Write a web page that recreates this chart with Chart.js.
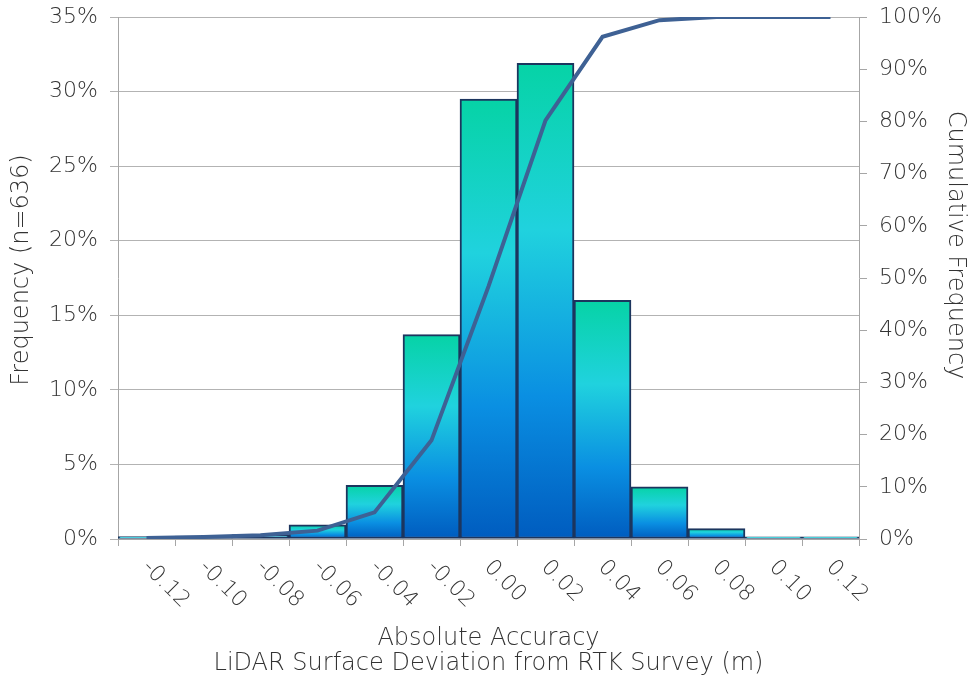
<!DOCTYPE html>
<html>
<head>
<meta charset="utf-8">
<script src="https://cdn.jsdelivr.net/npm/chart.js@4.4.1/dist/chart.umd.min.js"></script>
<style>
  body { margin: 0; background: #fff; }
  #wrap { width: 969px; height: 676px; }
</style>
</head>
<body>
<div id="wrap"><canvas id="histChart" width="969" height="676"></canvas></div>
<script>
// bin labels (m)
const binLabels = ['-0.12', '-0.10', '-0.08', '-0.06', '-0.04', '-0.02', '0.00', '0.02', '0.04', '0.06', '0.08', '0.10', '0.12'];
// frequency per bin, % of n=636
const frequency = [0.16, 0.2, 0.3, 0.95, 3.6, 13.7, 29.5, 31.9, 16.0, 3.5, 0.7, 0.15, 0.15];
// cumulative frequency, %
const cumulative = [0.2, 0.4, 0.7, 1.6, 5.1, 18.9, 48.4, 80.2, 96.2, 99.4, 100, 100, 100];

const leftTitle = 'Frequency (n=636)';
const rightTitle = 'Cumulative Frequency';

const textColor = '#333333';
const fontFamily = '"DejaVu Sans", sans-serif';
const fontWeight = 300;

function barGradient(context) {
    const chart = context.chart;
    const y = chart.scales.y;
    if (!y || context.dataIndex === undefined) return '#1aa0e0';
    const top = y.getPixelForValue(frequency[context.dataIndex]);
    const bottom = y.getPixelForValue(0);
    if (!isFinite(top) || bottom - top < 1) return '#0a6cc8';
    const g = chart.ctx.createLinearGradient(0, top, 0, bottom);
    g.addColorStop(0, '#06d3a6');
    g.addColorStop(0.35, '#20d2de');
    g.addColorStop(0.7, '#0a8fe2');
    g.addColorStop(1, '#005cbf');
    return g;
}

// rotated x labels (running down-right) and the two side titles
const labelPlugin = {
    id: 'customLabels',
    afterDraw(chart) {
        const x = chart.scales.x;
        const ctx = chart.ctx;
        ctx.save();
        ctx.font = fontWeight + ' 22px ' + fontFamily;
        ctx.fillStyle = textColor;
        ctx.textAlign = 'left';
        ctx.textBaseline = 'middle';
        binLabels.forEach((lab, i) => {
            ctx.save();
            ctx.translate(x.getPixelForValue(i) - 1, x.top + 25);
            ctx.rotate(Math.PI / 4);
            ctx.fillText(lab, 0, 0);
            ctx.restore();
        });

        ctx.font = fontWeight + ' 24px ' + fontFamily;
        ctx.textAlign = 'center';
        ctx.save();
        ctx.translate(22, 270);
        ctx.rotate(-Math.PI / 2);
        ctx.fillText(leftTitle, 0, 0);
        ctx.restore();

        ctx.save();
        ctx.translate(955, 245);
        ctx.rotate(Math.PI / 2);
        ctx.fillText(rightTitle, 0, 0);
        ctx.restore();
        ctx.restore();
    }
};

function noLabelPad(scale) {
    scale.paddingTop = 0;
    scale.paddingBottom = 0;
}

new Chart(document.getElementById('histChart'), {
    data: {
        labels: binLabels,
        datasets: [{
            type: 'line',
            label: 'Cumulative Frequency',
            data: cumulative,
            yAxisID: 'y2',
            borderColor: '#3e6194',
            borderWidth: 4,
            pointRadius: 0,
            tension: 0,
            order: 0
        }, {
            type: 'bar',
            label: 'Frequency',
            data: frequency,
            yAxisID: 'y',
            backgroundColor: barGradient,
            borderColor: '#1c355e',
            borderWidth: 2,
            borderSkipped: false,
            barPercentage: 1,
            categoryPercentage: 1,
            order: 1
        }]
    },
    options: {
        responsive: false,
        animation: false,
        layout: { padding: { top: 17, left: 0, right: 0, bottom: 0 } },
        plugins: {
            legend: { display: false },
            tooltip: { enabled: false }
        },
        scales: {
            x: {
                offset: true,
                grid: { offset: true, drawOnChartArea: false, drawTicks: true, tickLength: 7, color: '#a6a6a6' },
                border: { color: '#a6a6a6' },
                ticks: { display: false },
                title: {
                    display: true,
                    text: ['Absolute Accuracy', 'LiDAR Surface Deviation from RTK Survey (m)'],
                    color: textColor,
                    font: { family: fontFamily, size: 24, weight: fontWeight, lineHeight: 1.04 },
                    padding: { top: 0, bottom: 0 }
                },
                afterFit(scale) { scale.height = 137; }
            },
            y: {
                position: 'left',
                min: 0,
                max: 35,
                ticks: {
                    stepSize: 5,
                    padding: 12,
                    color: textColor,
                    font: { family: fontFamily, size: 22, weight: fontWeight },
                    callback: v => v + '%'
                },
                grid: { color: '#b3b3b3', tickLength: 8 },
                border: { color: '#a6a6a6' },
                afterFit(scale) { scale.width = 118; noLabelPad(scale); }
            },
            y2: {
                position: 'right',
                min: 0,
                max: 100,
                ticks: {
                    stepSize: 10,
                    padding: 12,
                    color: textColor,
                    font: { family: fontFamily, size: 22, weight: fontWeight },
                    callback: v => v + '%'
                },
                grid: { drawOnChartArea: false, color: '#a6a6a6', tickLength: 8 },
                border: { color: '#a6a6a6' },
                afterFit(scale) { scale.width = 110; noLabelPad(scale); }
            }
        }
    },
    plugins: [labelPlugin]
});
</script>
</body>
</html>
